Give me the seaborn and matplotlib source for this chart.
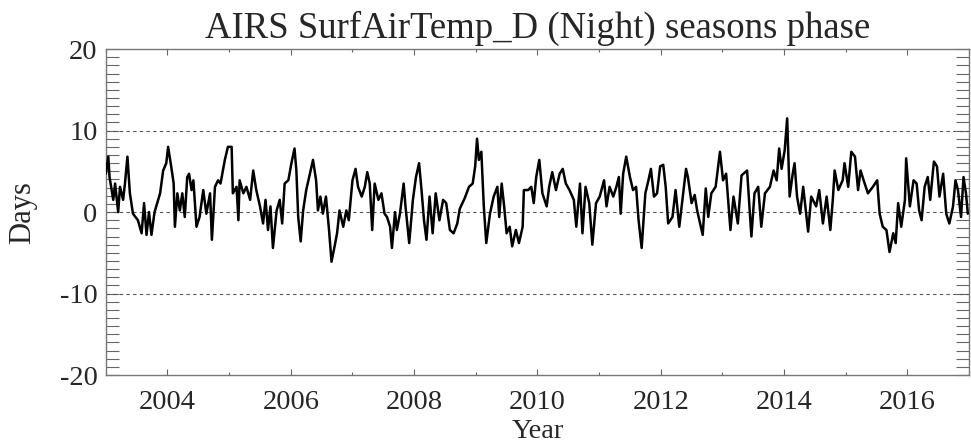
import numpy as np
import pandas as pd
import matplotlib
matplotlib.use('Agg')
import matplotlib.pyplot as plt
import seaborn as sns
from matplotlib.ticker import MultipleLocator

# decimal year and phase (days)
years = [
    2003.00, 2003.04, 2003.06, 2003.12, 2003.15, 2003.20, 2003.23, 2003.28, 2003.31, 2003.35,
    2003.39, 2003.44, 2003.52, 2003.58, 2003.62, 2003.66, 2003.70, 2003.74, 2003.79, 2003.88,
    2003.93, 2003.98, 2004.01, 2004.06, 2004.10, 2004.12, 2004.16, 2004.20, 2004.24, 2004.28,
    2004.32, 2004.35, 2004.39, 2004.42, 2004.47, 2004.52, 2004.58, 2004.63, 2004.69, 2004.72,
    2004.77, 2004.82, 2004.86, 2004.93, 2004.98, 2005.04, 2005.06, 2005.12, 2005.15, 2005.17,
    2005.23, 2005.28, 2005.34, 2005.39, 2005.44, 2005.50, 2005.55, 2005.59, 2005.63, 2005.67,
    2005.71, 2005.77, 2005.82, 2005.86, 2005.90, 2005.96, 2006.01, 2006.06, 2006.09, 2006.12,
    2006.16, 2006.20, 2006.25, 2006.31, 2006.36, 2006.41, 2006.44, 2006.48, 2006.52, 2006.57,
    2006.62, 2006.66, 2006.71, 2006.75, 2006.79, 2006.85, 2006.90, 2006.94, 2007.00, 2007.05,
    2007.09, 2007.15, 2007.20, 2007.24, 2007.28, 2007.32, 2007.36, 2007.42, 2007.47, 2007.52,
    2007.56, 2007.61, 2007.64, 2007.69, 2007.72, 2007.77, 2007.83, 2007.86, 2007.92, 2007.98,
    2008.03, 2008.08, 2008.12, 2008.16, 2008.20, 2008.25, 2008.30, 2008.35, 2008.41, 2008.47,
    2008.52, 2008.58, 2008.64, 2008.70, 2008.74, 2008.82, 2008.89, 2008.95, 2008.99, 2009.02,
    2009.05, 2009.09, 2009.13, 2009.17, 2009.23, 2009.29, 2009.35, 2009.38, 2009.42, 2009.46,
    2009.50, 2009.55, 2009.59, 2009.65, 2009.70, 2009.76, 2009.78, 2009.85, 2009.90, 2009.94,
    2009.98, 2010.03, 2010.08, 2010.15, 2010.19, 2010.24, 2010.30, 2010.36, 2010.41, 2010.46,
    2010.52, 2010.59, 2010.63, 2010.69, 2010.73, 2010.78, 2010.84, 2010.89, 2010.95, 2011.01,
    2011.08, 2011.12, 2011.17, 2011.23, 2011.28, 2011.32, 2011.35, 2011.39, 2011.44, 2011.50,
    2011.55, 2011.60, 2011.64, 2011.69, 2011.75, 2011.80, 2011.84, 2011.89, 2011.94, 2011.99,
    2012.04, 2012.08, 2012.12, 2012.19, 2012.24, 2012.30, 2012.41, 2012.44, 2012.50, 2012.55,
    2012.59, 2012.68, 2012.73, 2012.77, 2012.82, 2012.89, 2012.96, 2013.01, 2013.06, 2013.13,
    2013.18, 2013.25, 2013.31, 2013.40, 2013.47, 2013.52, 2013.58, 2013.63, 2013.69, 2013.77,
    2013.83, 2013.88, 2013.92, 2013.96, 2014.01, 2014.05, 2014.09, 2014.14, 2014.17, 2014.21,
    2014.26, 2014.31, 2014.39, 2014.44, 2014.52, 2014.57, 2014.63, 2014.69, 2014.75, 2014.79,
    2014.82, 2014.88, 2014.95, 2014.98, 2015.04, 2015.09, 2015.15, 2015.20, 2015.24, 2015.29,
    2015.36, 2015.44, 2015.51, 2015.55, 2015.60, 2015.66, 2015.71, 2015.77, 2015.81, 2015.85,
    2015.90, 2015.96, 2015.98, 2016.04, 2016.10, 2016.15, 2016.19, 2016.23, 2016.28, 2016.33,
    2016.37, 2016.43, 2016.48, 2016.52, 2016.58, 2016.63, 2016.68, 2016.74, 2016.78, 2016.82,
    2016.87, 2016.91, 2016.95, 2016.98,
]
days = [
    4.7, 6.8, 4.3, 1.5, 3.5, 0.0, 3.1, 1.5, 3.5, 6.8,
    2.3, -0.2, -1.0, -2.6, 1.1, -2.8, 0.0, -2.8, 0.0, 2.3,
    5.1, 6.0, 8.0, 5.6, 3.5, -1.8, 2.3, 0.2, 2.3, -0.6,
    4.3, 4.7, 2.7, 3.9, -1.8, -0.6, 2.7, -0.2, 2.3, -3.4,
    3.1, 3.9, 3.5, 6.4, 8.0, 8.0, 2.3, 3.1, -1.0, 3.9,
    2.3, 3.1, 1.5, 5.1, 2.7, 0.7, -1.4, 1.5, -2.2, 0.7,
    -4.4, 0.2, 1.5, -1.4, 3.5, 3.9, 6.0, 7.8, 5.1, -0.6,
    -3.6, 0.2, 2.7, 4.7, 6.4, 3.9, 0.2, 1.9, -0.2, 1.9,
    -2.2, -6.1, -4.2, -2.6, 0.2, -1.8, 0.2, -1.0, 3.9, 5.3,
    3.1, 1.9, 3.1, 4.9, 3.5, -2.2, 3.5, 1.5, 2.3, -0.2,
    -0.6, -1.8, -4.4, 0.0, -2.2, -0.2, 3.5, 0.7, -3.8, 1.5,
    4.3, 6.0, 2.7, -1.0, -3.4, 1.9, -2.6, 2.3, -1.0, 1.5,
    1.1, -2.2, -2.6, -1.4, 0.4, 1.7, 3.1, 3.5, 5.6, 9.0,
    6.4, 7.4, 0.7, -3.8, -0.2, 1.9, 3.1, -0.6, 3.5, 0.7,
    -2.6, -1.8, -4.2, -2.2, -3.8, -1.8, 2.7, 2.7, 3.1, 1.1,
    4.3, 6.4, 2.3, 0.7, 3.1, 4.9, 2.7, 4.7, 5.3, 3.5,
    2.7, 1.5, -1.8, 3.5, -2.6, 3.1, 1.1, -4.0, 1.1, 1.9,
    3.9, 0.7, 3.1, 1.9, 3.1, 4.3, -0.2, 4.7, 6.8, 4.3,
    2.7, 3.1, -1.0, -4.4, 2.3, 3.9, 5.3, 1.9, 2.3, 5.6,
    5.8, 3.1, -1.4, -0.6, 2.7, -1.8, 5.3, 4.3, 1.1, 2.1,
    0.2, -2.8, 2.9, -0.6, 2.3, 3.1, 7.4, 3.9, 4.7, -2.2,
    1.9, -1.4, 4.5, 5.1, -3.0, 2.3, 3.1, -1.8, 2.3, 3.1,
    5.1, 3.9, 7.8, 5.3, 7.6, 11.5, 1.9, 4.7, 6.0, 1.9,
    -0.2, 3.1, -2.4, 1.9, 0.7, 2.7, -1.4, 1.9, -2.2, 1.5,
    5.1, 2.7, 3.9, 6.0, 3.1, 7.4, 6.8, 2.7, 5.1, 3.9,
    2.3, 3.1, 3.9, -0.2, -1.8, -2.2, -4.9, -2.6, -3.8, 1.1,
    -1.8, 1.5, 6.6, 0.7, 3.9, 3.5, 0.2, -1.0, 3.1, 4.3,
    1.5, 6.2, 5.6, 1.9, 4.7, -0.2, -1.4, 0.7, 3.9, 2.7,
    -0.6, 4.3, 2.3, -0.2,
]
ref_levels = [-10, 0, 10]
x_ticks = [2004, 2006, 2008, 2010, 2012, 2014, 2016]
y_ticks = [-20, -10, 0, 10, 20]

df = pd.DataFrame({'Year': years, 'Days': days})

sns.set_style('ticks')
plt.rcParams['font.family'] = ['Liberation Serif', 'DejaVu Serif']
plt.rcParams['axes.unicode_minus'] = False

fig = plt.figure(figsize=(9.71, 4.46), dpi=100)
ax = fig.add_axes([0.109, 0.159, 0.889, 0.731])

for lv in ref_levels:
    ax.axhline(lv, color='#555555', lw=0.8, ls=(0, (3, 3)), zorder=1)

sns.lineplot(data=df, x='Year', y='Days', color='black', lw=1.8, ax=ax, zorder=3)

ax.set_xlim(2003, 2017)
ax.set_ylim(-20, 20)
ax.set_xticks(x_ticks)
ax.set_yticks(y_ticks)
ax.xaxis.set_minor_locator(MultipleLocator(1))
ax.yaxis.set_minor_locator(MultipleLocator(1))
ax.tick_params(axis='x', which='major', direction='in', length=4, width=0.8,
               color='#666666', top=True, labelsize=20.5, pad=11)
ax.tick_params(axis='x', which='minor', direction='in', length=2, width=0.8,
               color='#666666', top=True)
ax.tick_params(axis='y', which='both', direction='in', length=9.5, width=0.8,
               color='#666666', right=True, labelsize=20.5, pad=6)
for s in ax.spines.values():
    s.set_color('#777777')
    s.set_linewidth(1.0)

ax.set_title('AIRS SurfAirTemp_D (Night) seasons phase', fontsize=26.5, pad=8)
ax.set_xlabel('Year', fontsize=20.5)
ax.xaxis.set_label_coords(0.5, -0.134)
ax.set_ylabel('Days', fontsize=22)
ax.yaxis.set_label_coords(-0.08, 0.5)

fig.savefig('out.png', dpi=100)
